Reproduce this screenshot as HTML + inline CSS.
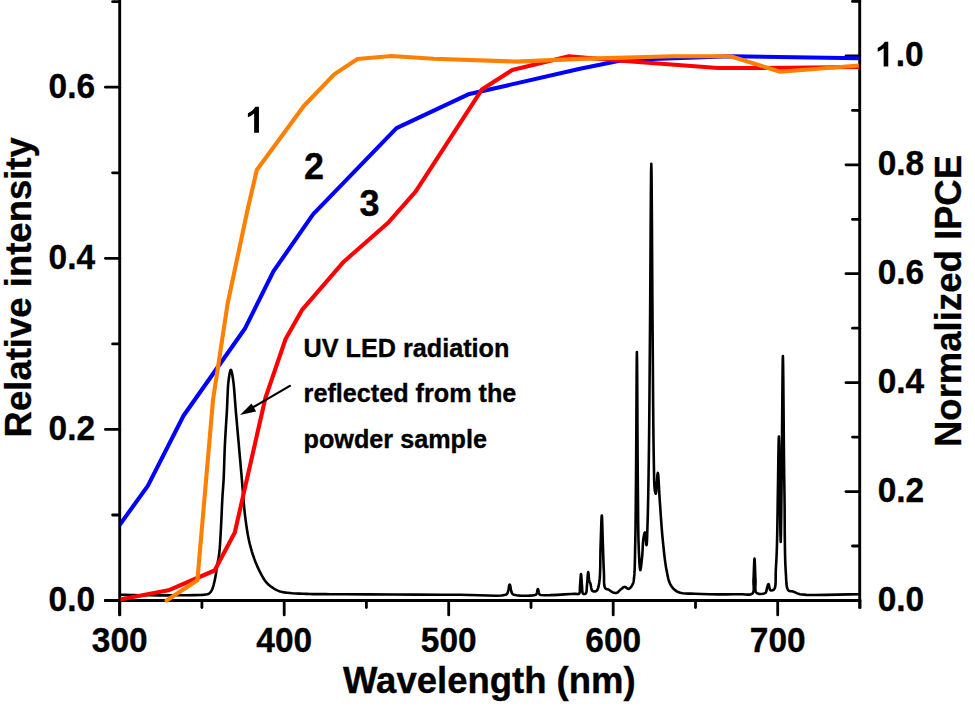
<!DOCTYPE html>
<html><head><meta charset="utf-8"><style>
html,body{margin:0;padding:0;background:#fff;}
body{width:975px;height:707px;overflow:hidden;}
svg{display:block;}
text{font-family:"Liberation Sans",sans-serif;font-weight:bold;fill:#000;stroke:#000;stroke-width:0.35px;}
.lb{font-size:36px;letter-spacing:0px;}
.t36{font-size:36.5px;}
.n36{font-size:36px;}
.t25{font-size:25.2px;}
</style></head><body>
<svg width="975" height="707" viewBox="0 0 975 707">
<rect width="975" height="707" fill="#fff"/>
<g stroke="#000" stroke-width="2.9" stroke-linecap="butt">
<line x1="119.7" y1="0" x2="119.7" y2="615.6"/>
<line x1="104.3" y1="600.5" x2="861.1" y2="600.5"/>
<line x1="859.7" y1="0" x2="859.7" y2="608.5"/>
</g>
<g stroke="#000" stroke-width="2.8" stroke-linecap="round">
<line x1="105.4" y1="600.5" x2="119.7" y2="600.5"/>
<line x1="105.4" y1="429.4" x2="119.7" y2="429.4"/>
<line x1="105.4" y1="258.3" x2="119.7" y2="258.3"/>
<line x1="105.4" y1="87.2" x2="119.7" y2="87.2"/>
<line x1="112.6" y1="515.0" x2="119.7" y2="515.0"/>
<line x1="112.6" y1="343.9" x2="119.7" y2="343.9"/>
<line x1="112.6" y1="172.8" x2="119.7" y2="172.8"/>
<line x1="112.6" y1="1.7" x2="119.7" y2="1.7"/>
<line x1="119.7" y1="600.5" x2="119.7" y2="614.9"/>
<line x1="284.2" y1="600.5" x2="284.2" y2="614.9"/>
<line x1="448.7" y1="600.5" x2="448.7" y2="614.9"/>
<line x1="613.2" y1="600.5" x2="613.2" y2="614.9"/>
<line x1="777.7" y1="600.5" x2="777.7" y2="614.9"/>
<line x1="201.9" y1="600.5" x2="201.9" y2="607.5"/>
<line x1="366.4" y1="600.5" x2="366.4" y2="607.5"/>
<line x1="531.0" y1="600.5" x2="531.0" y2="607.5"/>
<line x1="695.5" y1="600.5" x2="695.5" y2="607.5"/>
<line x1="860.0" y1="600.5" x2="860.0" y2="607.5"/>
<line x1="846" y1="600.5" x2="859.7" y2="600.5"/>
<line x1="846" y1="491.6" x2="859.7" y2="491.6"/>
<line x1="846" y1="382.7" x2="859.7" y2="382.7"/>
<line x1="846" y1="273.7" x2="859.7" y2="273.7"/>
<line x1="846" y1="164.8" x2="859.7" y2="164.8"/>
<line x1="846" y1="55.9" x2="859.7" y2="55.9"/>
<line x1="852.5" y1="546.0" x2="859.7" y2="546.0"/>
<line x1="852.5" y1="437.1" x2="859.7" y2="437.1"/>
<line x1="852.5" y1="328.2" x2="859.7" y2="328.2"/>
<line x1="852.5" y1="219.3" x2="859.7" y2="219.3"/>
<line x1="852.5" y1="110.4" x2="859.7" y2="110.4"/>
<line x1="852.5" y1="1.4" x2="859.7" y2="1.4"/>
</g>
<defs><clipPath id="pc"><rect x="120.5" y="0" width="738.3" height="610"/></clipPath></defs>
<g fill="none" stroke-linejoin="round" stroke-linecap="round" clip-path="url(#pc)">
<polyline points="120.00,594.80 124.91,594.89 129.72,594.99 134.52,595.09 139.44,595.18 144.56,595.25 150.00,595.30 158.20,595.33 167.65,595.33 177.45,595.31 186.71,595.25 194.53,595.15 200.00,595.00 201.15,594.95 202.09,594.90 202.88,594.85 203.60,594.78 204.28,594.70 205.00,594.60 205.63,594.51 206.25,594.42 206.85,594.33 207.43,594.20 207.98,594.03 208.50,593.80 208.98,593.52 209.43,593.19 209.85,592.83 210.26,592.42 210.64,591.98 211.00,591.50 211.40,590.88 211.76,590.20 212.09,589.48 212.40,588.70 212.70,587.87 213.00,587.00 213.41,585.71 213.79,584.31 214.16,582.81 214.52,581.25 214.86,579.64 215.20,578.00 215.58,575.97 215.94,573.83 216.29,571.63 216.62,569.39 216.96,567.17 217.30,565.00 217.64,563.00 217.99,561.09 218.34,559.19 218.68,557.22 219.00,555.12 219.30,552.80 219.69,548.85 220.02,544.43 220.32,539.70 220.59,534.82 220.85,529.93 221.10,525.20 221.34,520.53 221.56,515.78 221.77,511.02 221.97,506.35 222.18,501.85 222.40,497.60 222.59,494.48 222.80,491.60 223.01,488.83 223.21,486.03 223.41,483.07 223.60,479.80 223.83,474.63 224.04,468.95 224.23,462.95 224.43,456.79 224.65,450.65 224.90,444.70 225.19,438.99 225.52,433.29 225.87,427.60 226.22,421.95 226.57,416.34 226.90,410.80 227.17,405.44 227.39,399.92 227.60,394.45 227.85,389.22 228.17,384.44 228.60,380.30 228.91,377.98 229.26,375.61 229.64,373.39 230.02,371.54 230.41,370.27 230.80,369.80 231.16,370.20 231.54,371.29 231.92,372.89 232.30,374.83 232.66,376.92 233.00,379.00 233.56,383.17 234.05,388.13 234.49,393.63 234.92,399.41 235.35,405.22 235.80,410.80 236.29,416.38 236.79,422.00 237.29,427.65 237.79,433.32 238.30,439.00 238.80,444.70 239.31,450.51 239.83,456.33 240.34,462.18 240.86,468.04 241.38,473.91 241.90,479.80 242.41,485.86 242.88,492.01 243.36,498.18 243.87,504.29 244.44,510.25 245.10,516.00 245.73,520.87 246.38,525.62 247.07,530.27 247.84,534.81 248.71,539.25 249.70,543.60 250.71,547.48 251.80,551.30 252.98,555.03 254.23,558.66 255.57,562.19 257.00,565.60 258.37,568.65 259.83,571.70 261.35,574.67 262.93,577.46 264.55,580.00 266.20,582.20 267.42,583.56 268.68,584.77 269.96,585.84 271.25,586.80 272.53,587.68 273.80,588.50 274.82,589.12 275.81,589.68 276.80,590.17 277.81,590.62 278.87,591.02 280.00,591.40 281.42,591.79 282.89,592.11 284.42,592.37 286.04,592.60 287.76,592.80 289.60,593.00 292.56,593.27 295.84,593.48 299.33,593.65 302.93,593.78 306.52,593.90 310.00,594.00 313.14,594.08 316.03,594.12 318.92,594.15 322.05,594.16 325.66,594.17 330.00,594.20 345.87,594.30 367.40,594.42 392.08,594.54 417.40,594.65 440.88,594.74 460.00,594.80 469.63,594.95 479.12,595.26 487.96,595.56 495.64,595.69 501.66,595.49 505.50,594.80 506.05,594.56 506.45,594.33 506.76,594.07 507.01,593.78 507.24,593.43 507.50,593.00 507.97,591.78 508.37,590.04 508.71,588.11 509.03,586.32 509.35,585.01 509.70,584.50 510.04,585.01 510.36,586.33 510.68,588.11 511.02,590.04 511.42,591.78 511.90,593.00 512.18,593.43 512.45,593.79 512.73,594.09 513.06,594.35 513.47,594.58 514.00,594.80 516.49,595.30 520.26,595.59 524.64,595.69 528.99,595.61 532.66,595.37 535.00,595.00 535.38,594.88 535.67,594.76 535.91,594.62 536.12,594.46 536.30,594.26 536.50,594.00 536.82,593.29 537.07,592.27 537.29,591.13 537.49,590.08 537.68,589.30 537.90,589.00 538.11,589.30 538.30,590.08 538.49,591.14 538.71,592.27 538.97,593.29 539.30,594.00 539.52,594.26 539.73,594.47 539.95,594.63 540.22,594.76 540.56,594.88 541.00,595.00 544.54,595.28 550.35,595.17 557.36,594.83 564.52,594.39 570.76,594.00 575.00,593.80 575.92,593.84 576.72,593.96 577.42,594.08 578.01,594.14 578.54,594.07 579.00,593.80 579.48,593.05 579.74,591.94 579.85,590.57 579.88,589.06 579.91,587.50 580.00,586.00 580.18,583.89 580.35,581.34 580.52,578.72 580.68,576.40 580.84,574.74 581.00,574.10 581.16,574.74 581.32,576.40 581.48,578.73 581.65,581.35 581.82,583.90 582.00,586.00 582.10,587.48 582.16,589.01 582.21,590.50 582.33,591.84 582.57,592.91 583.00,593.60 583.38,593.83 583.84,593.98 584.34,594.02 584.85,593.98 585.31,593.84 585.70,593.60 586.18,592.83 586.48,591.62 586.65,590.10 586.76,588.41 586.85,586.66 587.00,585.00 587.22,582.70 587.43,579.94 587.62,577.11 587.81,574.59 588.00,572.79 588.20,572.10 588.36,572.62 588.52,573.95 588.67,575.79 588.84,577.79 589.05,579.64 589.30,581.00 589.46,581.50 589.64,581.91 589.82,582.27 590.02,582.62 590.21,583.02 590.40,583.50 590.67,584.60 590.90,585.99 591.13,587.48 591.42,588.92 591.82,590.11 592.40,590.90 592.98,591.22 593.67,591.41 594.42,591.47 595.19,591.41 595.90,591.22 596.50,590.90 597.18,590.19 597.73,589.17 598.17,587.89 598.54,586.39 598.87,584.71 599.20,582.90 599.77,578.18 600.10,572.20 600.27,565.43 600.35,558.34 600.44,551.37 600.60,545.00 600.80,539.19 601.01,532.71 601.21,526.33 601.41,520.83 601.61,516.96 601.80,515.50 601.99,517.02 602.18,521.01 602.36,526.64 602.54,533.07 602.72,539.47 602.90,545.00 603.06,549.66 603.21,554.38 603.36,559.06 603.51,563.63 603.69,568.00 603.90,572.10 604.00,575.23 604.01,578.44 604.03,581.53 604.17,584.31 604.52,586.60 605.20,588.20 605.66,588.66 606.20,588.94 606.78,589.10 607.39,589.22 608.01,589.37 608.60,589.60 609.25,589.99 609.91,590.46 610.57,590.95 611.24,591.44 611.91,591.87 612.60,592.20 613.25,592.45 613.93,592.68 614.61,592.86 615.29,592.98 615.95,593.00 616.60,592.90 617.30,592.60 617.97,592.10 618.62,591.49 619.27,590.82 619.93,590.17 620.60,589.60 621.27,589.06 621.95,588.48 622.63,587.91 623.32,587.42 624.01,587.06 624.70,586.90 625.37,587.04 626.05,587.44 626.73,587.97 627.40,588.48 628.06,588.83 628.70,588.90 629.44,588.58 630.19,587.96 630.91,587.13 631.59,586.17 632.19,585.17 632.70,584.20 633.11,583.25 633.40,582.29 633.62,581.29 633.78,580.18 633.93,578.94 634.10,577.50 634.44,573.63 634.68,568.90 634.84,563.48 634.97,557.57 635.07,551.35 635.20,545.00 635.39,535.71 635.54,525.79 635.66,515.26 635.78,504.11 635.88,492.35 636.00,480.00 636.17,458.19 636.32,431.03 636.47,402.69 636.61,377.29 636.75,359.02 636.90,352.00 637.04,358.96 637.18,377.12 637.32,402.40 637.46,430.69 637.62,457.92 637.80,480.00 637.92,493.37 638.03,506.46 638.14,518.96 638.28,530.58 638.49,541.03 638.80,550.00 639.00,554.52 639.22,559.09 639.46,563.32 639.72,566.82 640.00,569.21 640.30,570.10 640.56,569.52 640.85,567.98 641.15,565.76 641.45,563.16 641.74,560.48 642.00,558.00 642.28,554.81 642.50,551.25 642.71,547.54 642.92,543.93 643.18,540.67 643.50,538.00 643.71,536.73 643.95,535.45 644.19,534.27 644.44,533.29 644.68,532.63 644.90,532.40 645.21,533.37 645.50,535.77 645.78,538.87 646.04,541.97 646.28,544.35 646.50,545.30 646.73,544.39 646.92,541.96 647.08,538.40 647.22,534.12 647.36,529.52 647.50,525.00 647.76,516.55 647.99,506.89 648.21,496.19 648.42,484.68 648.61,472.55 648.80,460.00 649.04,441.10 649.26,420.56 649.45,398.79 649.63,376.17 649.81,353.11 650.00,330.00 650.22,299.62 650.44,263.76 650.65,227.34 650.87,195.25 651.08,172.41 651.30,163.70 651.52,172.41 651.73,195.25 651.95,227.34 652.16,263.76 652.38,299.62 652.60,330.00 652.78,353.65 652.95,377.90 653.12,401.70 653.31,424.02 653.53,443.80 653.80,460.00 653.92,466.55 654.01,472.63 654.12,478.13 654.26,482.92 654.48,486.92 654.80,490.00 654.95,490.92 655.11,491.79 655.28,492.55 655.46,493.16 655.63,493.56 655.80,493.70 656.16,492.14 656.51,488.28 656.85,483.27 657.17,478.28 657.49,474.43 657.80,472.90 658.13,474.21 658.44,477.67 658.74,482.63 659.04,488.40 659.36,494.31 659.70,499.70 660.14,505.92 660.59,512.53 661.06,519.35 661.56,526.22 662.10,532.96 662.70,539.40 663.27,545.05 663.86,550.73 664.48,556.30 665.15,561.65 665.88,566.62 666.70,571.10 667.25,573.83 667.76,576.40 668.31,578.80 668.95,581.03 669.72,583.10 670.70,585.00 671.65,586.47 672.68,587.83 673.81,589.07 675.06,590.18 676.45,591.16 678.00,592.00 680.25,592.79 682.73,593.26 685.46,593.49 688.41,593.59 691.59,593.66 695.00,593.80 701.58,594.07 709.44,594.25 717.90,594.34 726.27,594.35 733.86,594.30 740.00,594.20 742.66,594.26 745.16,594.46 747.44,594.64 749.46,594.65 751.16,594.32 752.50,593.50 753.38,592.04 753.75,590.08 753.78,587.76 753.63,585.21 753.49,582.58 753.50,580.00 753.68,576.22 753.85,571.65 754.02,566.93 754.18,562.75 754.34,559.75 754.50,558.60 754.66,559.75 754.82,562.76 754.98,566.96 755.14,571.68 755.31,576.25 755.50,580.00 755.53,582.50 755.42,585.06 755.32,587.54 755.37,589.77 755.72,591.60 756.50,592.90 757.65,593.55 759.21,593.89 760.98,593.96 762.73,593.80 764.28,593.44 765.40,592.90 765.92,592.32 766.26,591.56 766.48,590.68 766.63,589.75 766.78,588.84 767.00,588.00 767.25,587.21 767.49,586.33 767.74,585.47 767.99,584.72 768.24,584.19 768.50,584.00 768.79,584.43 769.03,585.50 769.29,586.92 769.59,588.39 769.98,589.62 770.50,590.30 771.04,590.46 771.69,590.47 772.40,590.33 773.11,590.05 773.76,589.63 774.30,589.10 775.10,587.25 775.51,584.47 775.67,581.07 775.68,577.33 775.69,573.55 775.80,570.00 776.02,566.42 776.22,562.90 776.41,559.32 776.58,555.57 776.74,551.54 776.90,547.10 777.12,539.05 777.30,529.90 777.45,520.04 777.60,509.85 777.74,499.71 777.90,490.00 778.06,479.74 778.22,468.07 778.38,456.45 778.55,446.34 778.72,439.20 778.90,436.50 779.18,444.32 779.49,463.85 779.81,489.25 780.13,514.65 780.43,534.19 780.70,542.00 780.89,538.52 781.07,529.28 781.23,516.03 781.39,500.55 781.54,484.62 781.70,470.00 781.90,449.87 782.11,425.49 782.31,400.38 782.51,378.08 782.70,362.11 782.90,356.00 783.09,361.92 783.28,377.24 783.47,398.34 783.66,421.59 783.84,443.36 784.00,460.00 784.09,466.98 784.16,472.99 784.24,478.48 784.31,483.90 784.40,489.69 784.50,496.30 784.62,508.02 784.69,521.64 784.78,536.05 784.96,550.10 785.27,562.66 785.80,572.60 786.04,576.51 786.21,580.16 786.41,583.47 786.76,586.33 787.35,588.64 788.30,590.30 788.99,590.84 789.78,591.13 790.65,591.26 791.56,591.32 792.49,591.40 793.40,591.60 794.37,591.98 795.28,592.43 796.21,592.91 797.24,593.39 798.48,593.83 800.00,594.20 806.46,594.85 815.43,595.03 826.08,594.90 837.57,594.62 849.05,594.33 859.70,594.20" stroke="#000" stroke-width="2.6"/>
<polyline points="118.50,526.50 147.80,485.90 183.50,415.80 244.80,328.80 273.40,271.40 313.00,214.40 396.50,128.10 468.30,94.30 580.00,68.80 619.50,60.80 646.20,59.20 730.50,56.30 859.70,58.30" stroke="#0000ff" stroke-width="4.1"/>
<polyline points="119.70,599.60 168.40,590.30 214.60,570.50 234.80,532.50 265.40,398.00 285.60,339.00 302.30,309.60 343.80,261.70 388.70,222.20 415.60,191.70 481.80,89.60 512.20,70.10 568.90,56.20 621.50,60.80 718.00,68.00 760.00,68.00 859.70,67.00" stroke="#ff0000" stroke-width="4.1"/>
<polyline points="166.60,600.50 197.40,580.20 213.00,400.00 227.60,303.70 247.50,210.00 256.80,170.00 303.80,106.00 334.20,74.40 357.40,59.00 391.50,56.00 433.50,58.80 516.70,61.60 580.00,58.90 672.80,56.20 730.50,56.20 780.20,71.80 859.70,65.50" stroke="#ff8000" stroke-width="4.1"/>
</g>
<line x1="289.9" y1="385.9" x2="250" y2="409" stroke="#000" stroke-width="2.2" stroke-linecap="round"/>
<polygon points="240,415 251.5,403.6 256.2,411.4" fill="#000"/>
<text transform="translate(95.10,611.10) scale(0.93,1)" text-anchor="end" class="lb">0.0</text>
<text transform="translate(95.10,440.00) scale(0.93,1)" text-anchor="end" class="lb">0.2</text>
<text transform="translate(95.10,268.90) scale(0.93,1)" text-anchor="end" class="lb">0.4</text>
<text transform="translate(95.10,97.80) scale(0.93,1)" text-anchor="end" class="lb">0.6</text>
<text transform="translate(119.70,651.90) scale(0.93,1)" text-anchor="middle" class="lb">300</text>
<text transform="translate(284.20,651.90) scale(0.93,1)" text-anchor="middle" class="lb">400</text>
<text transform="translate(448.70,651.90) scale(0.93,1)" text-anchor="middle" class="lb">500</text>
<text transform="translate(613.20,651.90) scale(0.93,1)" text-anchor="middle" class="lb">600</text>
<text transform="translate(777.70,651.90) scale(0.93,1)" text-anchor="middle" class="lb">700</text>
<text transform="translate(877.70,610.50) scale(0.93,1)" text-anchor="start" class="lb">0.0</text>
<text transform="translate(877.70,501.58) scale(0.93,1)" text-anchor="start" class="lb">0.2</text>
<text transform="translate(877.70,392.66) scale(0.93,1)" text-anchor="start" class="lb">0.4</text>
<text transform="translate(877.70,283.74) scale(0.93,1)" text-anchor="start" class="lb">0.6</text>
<text transform="translate(877.70,174.82) scale(0.93,1)" text-anchor="start" class="lb">0.8</text>
<text transform="translate(895.80,65.90) scale(0.93,1)" text-anchor="start" class="lb">.0</text>
<path d="M883.66,66.60 L888.25,66.60 L888.25,41.80 L884.76,41.80 Q883.04,45.33 877.70,48.00 L877.70,51.82 Q881.13,50.58 883.66,48.29 Z" fill="#000"/>
<text x="343" y="693" class="t36">Wavelength (nm)</text>
<text transform="translate(30.8,437.4) rotate(-90)" class="t36">Relative intensity</text>
<text transform="translate(961.2,447.0) rotate(-90)" class="t36">Normalized IPCE</text>
<path d="M254.15,132.80 L258.96,132.80 L258.96,106.80 L255.30,106.80 Q253.50,110.50 247.90,113.30 L247.90,117.30 Q251.50,116.00 254.15,113.60 Z" fill="#000"/>
<text x="304" y="178.5" class="n36">2</text>
<text x="359.5" y="216" class="n36">3</text>
<text x="303.6" y="356.9" class="t25">UV LED radiation</text>
<text x="303.6" y="401.9" class="t25">reflected from the</text>
<text x="303.6" y="447.6" class="t25">powder sample</text>
</svg>
</body></html>
